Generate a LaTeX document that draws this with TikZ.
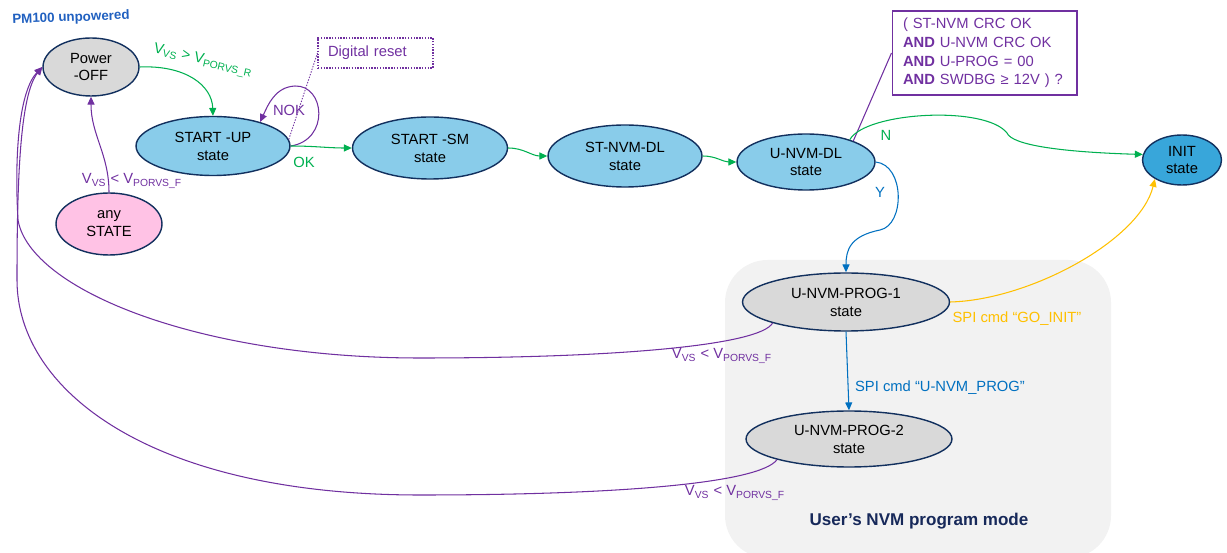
\documentclass[tikz,border=0pt]{standalone}
\usepackage{fontspec}
\setmainfont{Liberation Sans}
\usepackage{tikz}
\usetikzlibrary{calc, shapes.geometric, positioning, arrows.meta}

\definecolor{navyline}{HTML}{12305E}
\definecolor{skyfill}{HTML}{89CCEA}
\definecolor{initfill}{HTML}{38A6DA}
\definecolor{offgray}{HTML}{D9D9D9}
\definecolor{anypink}{HTML}{FFC2E5}
\definecolor{modebg}{HTML}{F2F2F2}
\definecolor{purp}{HTML}{7030A0}
\definecolor{okgreen}{HTML}{00B050}
\definecolor{yblue}{HTML}{0070C0}
\definecolor{ylw}{HTML}{FFC000}
\definecolor{pmblue}{HTML}{2060C0}
\definecolor{titlenavy}{HTML}{17295A}

\begin{document}
\begin{tikzpicture}[x=0.02cm, y=0.02cm,
  every node/.style={font=\fontsize{8.4}{10.2}\selectfont},
  statenode/.style={ellipse, draw=navyline, line width=0.8pt, inner sep=0pt, align=center},
  lbl/.style={inner sep=1pt},
  trans/.style={line width=0.6pt, -{Triangle[length=4.5pt,width=4pt]}}]
\useasboundingbox (0,0) rectangle (1227,-553);
\fill[modebg, rounded corners=0.85cm] (725,-260) rectangle (1111,-558);

% states
\node[statenode, fill=offgray, minimum width=1.92cm, minimum height=1.16cm] (off) at (91,-67) {Power\\-OFF};
\node[statenode, fill=skyfill, minimum width=3.08cm, minimum height=1.18cm] (startup) at (213,-146) {START -UP\\state};
\node[statenode, fill=skyfill, minimum width=3.10cm, minimum height=1.24cm] (startsm) at (430,-148) {START -SM\\state};
\node[statenode, fill=skyfill, minimum width=3.08cm, minimum height=1.24cm] (stnvm) at (625,-156) {ST-NVM-DL\\state};
\node[statenode, fill=skyfill, minimum width=2.76cm, minimum height=1.12cm] (unvmdl) at (806,-162) {U-NVM-DL\\state};
\node[statenode, fill=initfill, minimum width=1.58cm, minimum height=1.00cm] (init) at (1182,-160) {INIT\\state};
\node[statenode, fill=anypink, minimum width=2.12cm, minimum height=1.24cm] (any) at (109,-224) {any\\STATE};
\node[statenode, fill=offgray, minimum width=4.14cm, minimum height=1.16cm] (prog1) at (846,-302) {U-NVM-PROG-1\\state};
\node[statenode, fill=offgray, minimum width=4.12cm, minimum height=1.12cm] (prog2) at (849,-439) {U-NVM-PROG-2\\state};

% notes
\node[draw=purp, line width=0.6pt, text=purp, align=left, text width=3.26cm, inner xsep=0.22cm, minimum height=1.68cm, font=\fontsize{8.4}{10.6}\selectfont] (cond) at (984.5,-53) {( ST-NVM CRC OK\\\textbf{AND} U-NVM CRC OK\\\textbf{AND} U-PROG = 00\\\textbf{AND} SWDBG ≥ 12V ) ?};
\node[draw=purp, line width=0.6pt, dash pattern=on 0.8pt off 0.8pt, text=purp, align=left, text width=1.9cm, inner xsep=0.2cm, minimum height=0.6cm] (dig) at (375.5,-53) {Digital reset};
\draw[purp, line width=0.5pt, dash pattern=on 0.8pt off 0.8pt] (startup.5) -- (dig.west);
\draw[purp, line width=0.6pt] (unvmdl.24) -- (cond.west);

% transitions
\draw[trans, okgreen] (off.east) .. controls (185,-65) and (212,-85) .. (startup.north);
\draw[trans, purp] (startup.east) .. controls (330,-140) and (325,-85) .. (295,-86) .. controls (275,-87) and (268,-105) .. (startup.27);
\foreach \a/\b in {startup/startsm, startsm/stnvm, stnvm/unvmdl}
  \draw[trans, okgreen] (\a.east) to[out=0, in=180] (\b.west);
\draw[trans, okgreen] (unvmdl.27) .. controls (865,-112) and (985,-105) .. (1007,-133) .. controls (1012,-145) and (1060,-152) .. (init.172);
\draw[trans, yblue] (unvmdl.east) .. controls (905,-165) and (905,-225) .. (880,-230) .. controls (850,-236) and (846,-250) .. (prog1.north);
\draw[trans, yblue] (prog1.south) -- (prog2.north);
\draw[trans, ylw] (prog1.east) .. controls (1030,-300) and (1140,-240) .. (init.215);
\draw[trans, purp] (any.north) to[out=90, in=270] (off.south);
\draw[trans, purp] (prog1.196) .. controls (760,-345) and (620,-358) .. (420,-358) .. controls (200,-358) and (30,-290) .. (18,-220) .. controls (14,-150) and (20,-90) .. (off.west);
\draw[trans, purp] (prog2.196) .. controls (760,-483) and (620,-495) .. (420,-495) .. controls (150,-495) and (17,-390) .. (17,-280) .. controls (17,-180) and (20,-95) .. (off.west);

% labels
\node[lbl, font=\fontsize{7.6}{9}\selectfont\bfseries, text=pmblue, rotate=2] (pm) at (71,-18) {PM100 unpowered};
\node[lbl, text=okgreen, rotate=-13] (vrise) at (203,-61) {V\textsubscript{VS} > V\textsubscript{PORVS\_R}};
\node[lbl, text=purp] (nok) at (289,-110) {NOK};
\node[lbl, text=okgreen] (ok) at (304,-162) {OK};
\node[lbl, text=purp] (vfall) at (132,-181) {V\textsubscript{VS} < V\textsubscript{PORVS\_F}};
\node[lbl, text=okgreen] (nlbl) at (886,-135) {N};
\node[lbl, text=yblue] (ylbl) at (880,-192) {Y};
\node[lbl, text=ylw] (goinit) at (1017,-319) {SPI cmd “GO\_INIT”};
\node[lbl, text=yblue] (uprog) at (940,-388) {SPI cmd “U-NVM\_PROG”};
\node[lbl, text=purp] (vfall1) at (722,-356) {V\textsubscript{VS} < V\textsubscript{PORVS\_F}};
\node[lbl, text=purp] (vfall2) at (735,-493) {V\textsubscript{VS} < V\textsubscript{PORVS\_F}};
\node[lbl, font=\fontsize{9.7}{11}\selectfont\bfseries, text=titlenavy] (modetitle) at (919,-521) {User’s NVM program mode};
\end{tikzpicture}
\end{document}
